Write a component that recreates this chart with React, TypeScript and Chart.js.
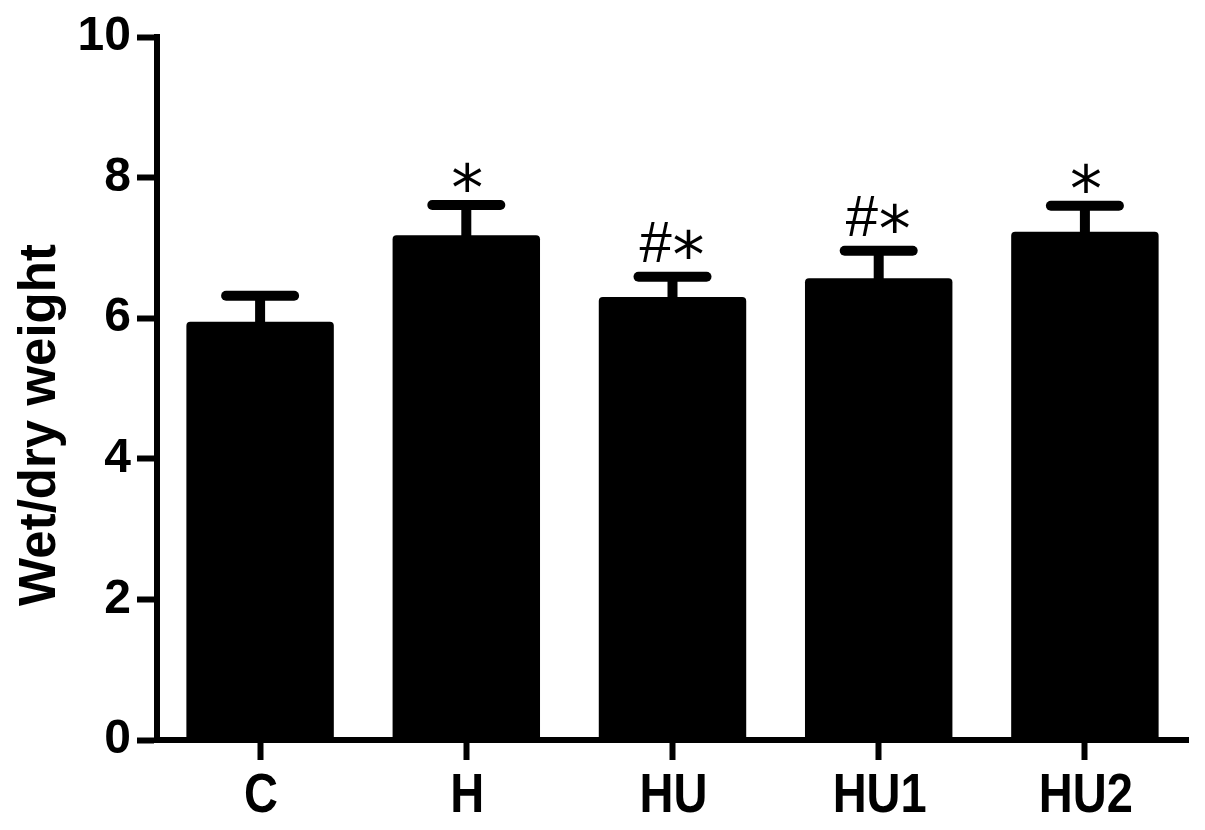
import React, { useEffect, useRef } from 'react';
import { Chart, registerables } from 'chart.js';

Chart.register(...registerables);

const categories = ['C', 'H', 'HU', 'HU1', 'HU2'];
const means = [5.95, 7.18, 6.3, 6.57, 7.23];
const sems = [0.37, 0.43, 0.29, 0.39, 0.37];
const marks = ['', '*', '#*', '#*', '*'];
const yMin = 0;
const yMax = 10;
const yStep = 2;
const yTitle = 'Wet/dry weight';

const drawGlyphCentered = (ctx: CanvasRenderingContext2D, ch: string, cx: number, cy: number) => {
  ctx.textAlign = 'left';
  ctx.textBaseline = 'alphabetic';
  const m = ctx.measureText(ch);
  const dx = cx - (m.actualBoundingBoxRight - m.actualBoundingBoxLeft) / 2;
  const dy = cy + (m.actualBoundingBoxAscent - m.actualBoundingBoxDescent) / 2;
  ctx.fillText(ch, dx, dy);
};

const errorBarPlugin = {
  id: 'errorBars',
  afterDatasetsDraw(chart: any) {
    const ctx: CanvasRenderingContext2D = chart.ctx;
    const meta = chart.getDatasetMeta(0);
    const ys = chart.scales.y;
    ctx.save();
    ctx.strokeStyle = '#000';
    ctx.fillStyle = '#000';
    ctx.lineWidth = 10;
    meta.data.forEach((bar: any, i: number) => {
      const x = bar.x;
      const top = ys.getPixelForValue(means[i] + sems[i]);
      ctx.lineCap = 'butt';
      ctx.beginPath();
      ctx.moveTo(x, bar.y + 2);
      ctx.lineTo(x, top);
      ctx.stroke();
      ctx.lineCap = 'round';
      ctx.beginPath();
      ctx.moveTo(x - 34, top);
      ctx.lineTo(x + 34, top);
      ctx.stroke();
      const mk = marks[i];
      const starFont = '64px "DejaVu Sans", sans-serif';
      const hashFont = '58px "Liberation Sans", Arial, sans-serif';
      if (mk === '*') {
        ctx.font = starFont;
        drawGlyphCentered(ctx, '*', x + 1, top - 28);
      } else if (mk === '#*') {
        ctx.font = hashFont;
        drawGlyphCentered(ctx, '#', x - 17, top - 35);
        ctx.font = starFont;
        drawGlyphCentered(ctx, '*', x + 16, top - 33);
      }
    });
    ctx.restore();
  },
};

const labelsPlugin = {
  id: 'manualLabels',
  afterDraw(chart: any) {
    const ctx: CanvasRenderingContext2D = chart.ctx;
    const xs = chart.scales.x;
    ctx.save();
    ctx.fillStyle = '#000';
    ctx.font = 'bold 56px "Liberation Sans", Arial, sans-serif';
    ctx.textAlign = 'center';
    ctx.textBaseline = 'alphabetic';
    categories.forEach((c, i) => {
      const x = xs.getPixelForValue(i);
      ctx.save();
      ctx.translate(x + 1, 812);
      ctx.scale(0.84, 1);
      ctx.fillText(c, 0, 0);
      ctx.restore();
    });
    ctx.font = 'bold 51px "Liberation Sans", Arial, sans-serif';
    ctx.translate(55, 425);
    ctx.rotate(-Math.PI / 2);
    ctx.fillText(yTitle, 0, 0);
    ctx.restore();
  },
};

export default function App() {
  const ref = useRef<HTMLCanvasElement>(null);
  useEffect(() => {
    if (!ref.current) return;
    const chart = new Chart(ref.current, {
      type: 'bar',
      data: {
        labels: categories,
        datasets: [
          {
            data: means,
            backgroundColor: '#000',
            borderWidth: 0,
            borderRadius: 4,
            barPercentage: 0.715,
            categoryPercentage: 1,
          },
        ],
      },
      options: {
        animation: false,
        responsive: false,
        events: [],
        layout: { padding: { left: 0, top: 37, right: 17, bottom: 0 } },
        plugins: { legend: { display: false }, tooltip: { enabled: false }, title: { display: false } },
        scales: {
          x: {
            afterFit: (s: any) => {
              s.height = 90;
            },
            grid: {
              drawOnChartArea: false,
              drawTicks: true,
              tickLength: 20,
              tickWidth: 6,
              tickColor: '#000',
              offset: false,
            },
            border: { display: true, color: '#000', width: 6 },
            ticks: { display: false },
          },
          y: {
            min: yMin,
            max: yMax,
            afterFit: (s: any) => {
              s.width = 157;
            },
            grid: {
              drawOnChartArea: false,
              drawTicks: true,
              tickLength: 20,
              tickWidth: 6,
              tickColor: '#000',
            },
            border: { display: true, color: '#000', width: 6 },
            ticks: {
              stepSize: yStep,
              color: '#000',
              padding: 6,
              font: { family: '"Liberation Sans", Arial, sans-serif', weight: 'bold', size: 48 },
            },
          },
        },
      },
      plugins: [errorBarPlugin, labelsPlugin],
    });
    return () => chart.destroy();
  }, []);
  return (
    <div style={{ position: 'absolute', left: 0, top: 0, width: 1205, height: 830, background: '#fff' }}>
      <canvas ref={ref} width={1205} height={830} style={{ width: 1205, height: 830, display: 'block' }} />
    </div>
  );
}
